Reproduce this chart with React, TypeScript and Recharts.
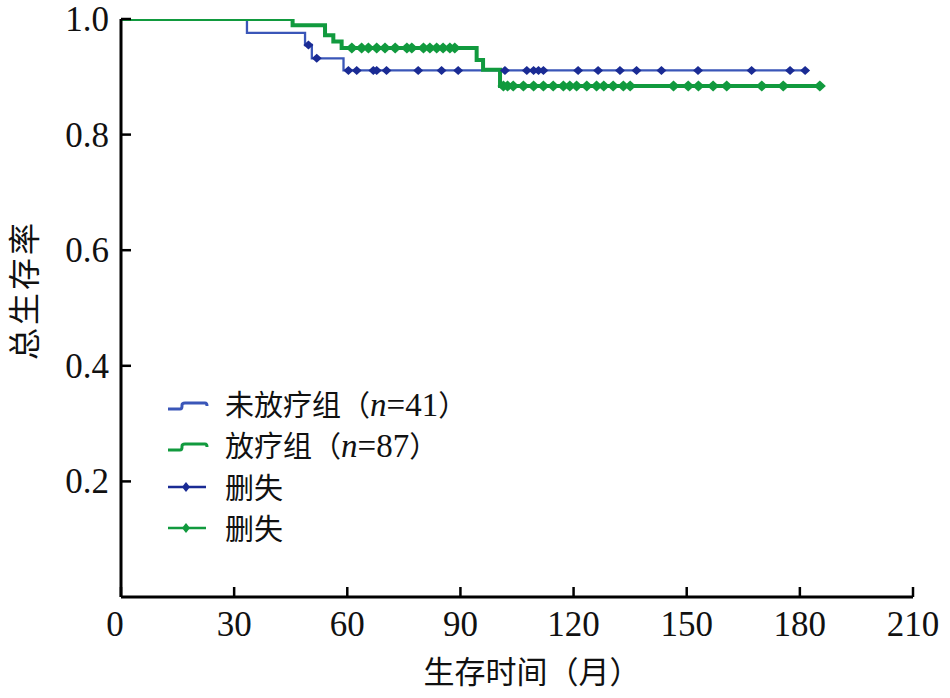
import React from 'react';
import { ComposedChart, Line, Scatter, XAxis, YAxis } from 'recharts';

// Kaplan–Meier step points (time in months, survival)
const blueTimes = [0, 33.4, 48.8, 50.6, 59.0, 182.2];
const blueSurv = [1, 0.976, 0.955, 0.932, 0.911, 0.911];
const greenTimes = [0, 45.5, 54.1, 56.3, 58.5, 94.3, 96.0, 100.5, 186.2];
const greenSurv = [1, 0.989, 0.972, 0.961, 0.95, 0.929, 0.912, 0.884, 0.884];

// censored times
const blueCensor = [49.7, 51.9, 60.3, 62.5, 66.9, 67.8, 70.4, 78.8, 85.0, 89.4, 101.8, 107.6, 109.4, 110.7, 112.0, 121.2, 126.5, 132.3, 136.7, 143.3, 153.0, 167.2, 177.4, 181.4];
const greenCensor = [61.2, 63.8, 65.6, 67.8, 70.0, 72.7, 75.8, 77.1, 80.2, 81.9, 83.7, 85.4, 87.2, 88.5, 101.4, 102.5, 104.0, 106.7, 109.4, 112.0, 114.6, 117.3, 119.0, 120.8, 123.5, 126.1, 128.0, 130.5, 133.2, 135.0, 146.5, 150.4, 153.1, 157.0, 160.6, 169.9, 175.6, 185.3];

const xTicks = [0, 30, 60, 90, 120, 150, 180, 210];
const yTicks = [0.2, 0.4, 0.6, 0.8, 1.0];

const legendLabels = ['未放疗组', '放疗组', '删失', '删失'];
const legendN = ['41', '87'];

const BLUE_LINE = '#3a56b8';
const BLUE_MARK = '#1a2b94';
const GREEN = '#119a3e';

const stepData = (ts: number[], ss: number[]) => ts.map((t, i) => ({ t, s: ss[i] }));
const survAt = (ts: number[], ss: number[], t: number) => {
  let v = ss[0];
  for (let i = 0; i < ts.length; i++) if (ts[i] <= t) v = ss[i];
  return v;
};
const censorData = (cs: number[], ts: number[], ss: number[]) => cs.map((t) => ({ t, s: survAt(ts, ss, t) }));

const blueData = stepData(blueTimes, blueSurv);
const greenData = stepData(greenTimes, greenSurv);
const blueCensorData = censorData(blueCensor, blueTimes, blueSurv);
const greenCensorData = censorData(greenCensor, greenTimes, greenSurv);

const SERIF = '"Liberation Serif", "Times New Roman", serif';
const CJK = '"Noto Sans CJK SC", sans-serif';

const diamond = (color: string, w: number, h: number) => (props: any) => {
  const { cx, cy } = props;
  if (cx == null || cy == null) return <g />;
  return <path d={`M${cx - w / 2},${cy} L${cx},${cy - h / 2} L${cx + w / 2},${cy} L${cx},${cy + h / 2} Z`} fill={color} stroke="none" />;
};

const XTick = (props: any) => {
  const { x, y, payload } = props;
  const dx = payload.value === 0 ? -6 : 0;
  return (
    <g>
      <line x1={x} y1={y} x2={x} y2={y - 10} stroke="#000" strokeWidth={2.5} />
      <text x={x + dx} y={y + 39} textAnchor="middle" fontFamily={SERIF} fontSize={35} fill="#111">{payload.value}</text>
    </g>
  );
};

const YTick = (props: any) => {
  const { x, y, payload } = props;
  return (
    <g>
      <line x1={x} y1={y} x2={x + 10} y2={y} stroke="#000" strokeWidth={2.5} />
      <text x={x - 12} y={y + 12} textAnchor="end" fontFamily={SERIF} fontSize={35} fill="#111">{Number(payload.value).toFixed(1)}</text>
    </g>
  );
};

const StepIcon = ({ color }: { color: string }) => (
  <svg width={65} height={30} style={{ display: 'block' }}>
    <path d="M8,19 L20,19 Q22,19 22,16 L22,15 Q22,13 25,13 L45,13 Q47,13 47,16" fill="none" stroke={color} strokeWidth={3} />
  </svg>
);
const CensorIcon = ({ color }: { color: string }) => (
  <svg width={65} height={30} style={{ display: 'block' }}>
    <line x1={8} y1={15} x2={46} y2={15} stroke={color} strokeWidth={2.5} />
    <path d="M22,15 L26,10 L30,15 L26,20 Z" fill={color} />
  </svg>
);

const LegendBox = () => {
  const rows = [
    { icon: <StepIcon color={BLUE_LINE} />, label: legendLabels[0], n: legendN[0] },
    { icon: <StepIcon color={GREEN} />, label: legendLabels[1], n: legendN[1] },
    { icon: <CensorIcon color={BLUE_MARK} />, label: legendLabels[2] },
    { icon: <CensorIcon color={GREEN} />, label: legendLabels[3] },
  ];
  return (
    <div style={{ position: 'absolute', left: 160, top: 384 }}>
      {rows.map((r, i) => (
        <div key={i} style={{ display: 'flex', alignItems: 'center', height: 41 }}>
          {r.icon}
          <span style={{ fontFamily: CJK, fontSize: 29, color: '#111', lineHeight: '41px', whiteSpace: 'nowrap' }}>
            {r.label}
            {r.n && (
              <>
                <span>（</span>
                <span style={{ fontFamily: SERIF, fontStyle: 'italic', fontSize: 33 }}>n</span>
                <span style={{ fontFamily: SERIF, fontSize: 33 }}>={r.n}</span>
                <span>）</span>
              </>
            )}
          </span>
        </div>
      ))}
    </div>
  );
};

export default function App() {
  return (
    <div style={{ position: 'absolute', left: 0, top: 0, width: 950, height: 698, background: '#fff' }}>
      <ComposedChart width={950} height={698} margin={{ top: 19, right: 37, left: 0, bottom: 0 }}>
        <XAxis
          dataKey="t"
          type="number"
          domain={[0, 210]}
          ticks={xTicks}
          interval={0}
          tickSize={0}
          tickMargin={0}
          height={101}
          stroke="#000"
          strokeWidth={3}
          tick={<XTick />}
          allowDataOverflow
          label={(p: any) => {
            const vb = p.viewBox;
            return (
              <text x={vb.x + vb.width / 2 + 15} y={vb.y + 86} textAnchor="middle" fontFamily={CJK} fontSize={31} fill="#111">
                生存时间（月）
              </text>
            );
          }}
        />
        <YAxis
          dataKey="s"
          type="number"
          domain={[0, 1]}
          ticks={yTicks}
          interval={0}
          tickSize={0}
          tickMargin={0}
          width={121}
          stroke="#000"
          strokeWidth={3}
          tick={<YTick />}
          allowDataOverflow
          label={(p: any) => {
            const vb = p.viewBox;
            const cx = 22;
            const cy = vb.y + vb.height / 2 - 18;
            return (
              <text x={cx} y={cy} transform={`rotate(-90 ${cx} ${cy})`} textAnchor="middle" dominantBaseline="central" fontFamily={CJK} fontSize={32} fill="#111" letterSpacing={3}>
                总生存率
              </text>
            );
          }}
        />
        <Line data={blueData} dataKey="s" type="stepAfter" stroke={BLUE_LINE} strokeWidth={2.3} dot={false} isAnimationActive={false} />
        <Line data={greenData} dataKey="s" type="stepAfter" stroke={GREEN} strokeWidth={4} dot={false} isAnimationActive={false} />
        <Scatter data={blueCensorData} dataKey="s" fill={BLUE_MARK} shape={diamond(BLUE_MARK, 10, 9)} isAnimationActive={false} />
        <Scatter data={greenCensorData} dataKey="s" fill={GREEN} shape={diamond(GREEN, 12, 11)} isAnimationActive={false} />
      </ComposedChart>
      <LegendBox />
    </div>
  );
}
